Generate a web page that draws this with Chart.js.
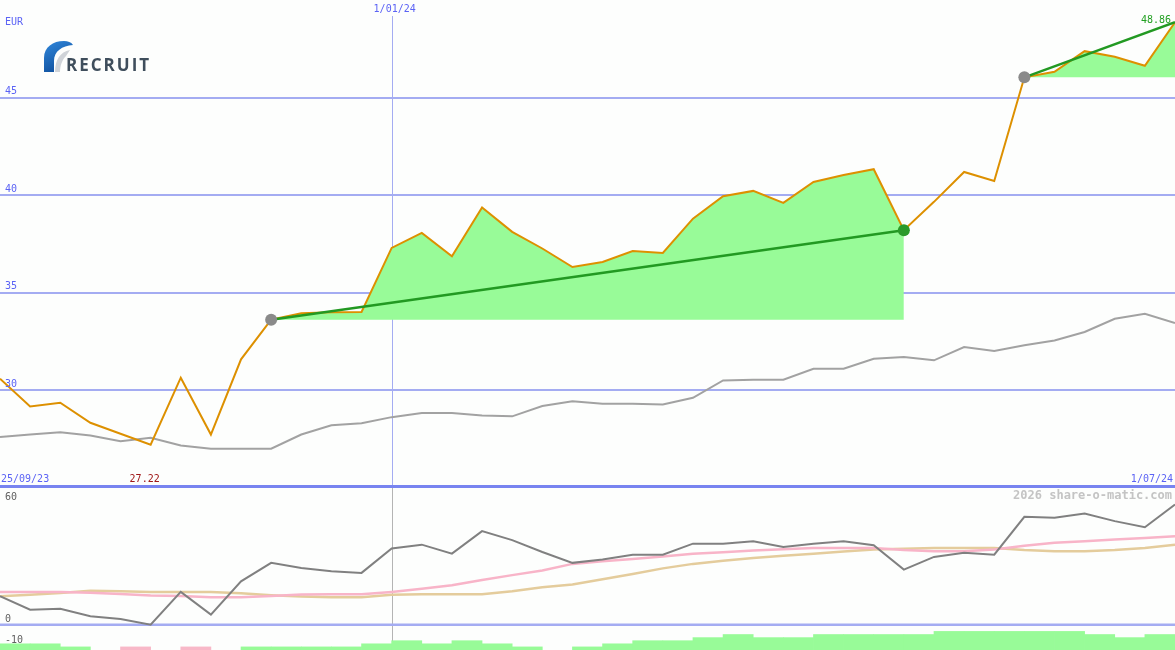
<!DOCTYPE html>
<html>
<head>
<meta charset="utf-8">
<script src="https://cdn.jsdelivr.net/npm/chart.js@4.4.1/dist/chart.umd.min.js"></script>
<style>
  body { margin: 0; background: #fdfefd; }
  #wrap { position: relative; width: 1175px; height: 650px; overflow: hidden; background: #fdfefd; }
  canvas { position: absolute; left: 0; }
</style>
</head>
<body>
<div id="wrap">
  <canvas id="main" width="1175" height="488" style="top:0"></canvas>
  <canvas id="osc" width="1175" height="162" style="top:488px"></canvas>
</div>
<script>
// weekly closes, EUR (index 0 = first week shown)
const price = [30.60, 29.18, 29.37, 28.34, 27.78, 27.22, 30.65, 27.74, 31.59, 33.62,
               33.95, 34.00, 34.02, 37.30, 38.07, 36.87, 39.37, 38.12, 37.27, 36.32,
               36.58, 37.14, 37.04, 38.80, 39.95, 40.22, 39.61, 40.68, 41.03, 41.33,
               38.21, 39.66, 41.19, 40.73, 46.04, 46.32, 47.38, 47.09, 46.63, 48.86];
// slow moving average (grey)
const avg = [27.61, 27.74, 27.86, 27.69, 27.40, 27.57, 27.18, 27.01, 27.01, 27.01,
             27.74, 28.21, 28.32, 28.63, 28.84, 28.84, 28.72, 28.67, 29.20, 29.44,
             29.32, 29.32, 29.28, 29.62, 30.51, 30.55, 30.55, 31.11, 31.11, 31.62,
             31.71, 31.54, 32.22, 32.02, 32.31, 32.56, 32.99, 33.67, 33.93, 33.45];
// lower panel
const osc = [13.9, 7.3, 7.8, 4.1, 2.8, 0.0, 16.0, 4.9, 21.2, 30.2,
             27.7, 26.1, 25.3, 37.2, 39.1, 34.7, 45.7, 41.3, 35.5, 30.2,
             31.8, 34.2, 34.2, 39.6, 39.6, 40.8, 38.0, 39.5, 40.8, 38.8,
             26.9, 33.1, 35.1, 34.2, 52.7, 52.2, 54.3, 50.6, 47.6, 58.7];
const oscPink = [16.0, 16.0, 16.0, 15.6, 15.0, 14.2, 14.0, 13.4, 13.4, 14.0,
                 14.7, 14.8, 14.8, 16.0, 17.5, 19.3, 21.8, 24.2, 26.5, 29.7,
                 31.0, 32.1, 33.3, 34.6, 35.4, 36.2, 36.8, 37.5, 37.5, 37.5,
                 36.5, 35.9, 35.9, 36.7, 38.6, 40.0, 40.8, 41.6, 42.4, 43.2];
const oscTan = [13.9, 14.6, 15.5, 16.6, 16.3, 16.0, 16.0, 16.0, 15.3, 14.4,
                13.8, 13.4, 13.4, 14.6, 14.8, 14.8, 14.8, 16.3, 18.3, 19.6,
                22.2, 24.8, 27.5, 29.7, 31.2, 32.6, 33.7, 34.7, 35.7, 36.7,
                37.1, 37.5, 37.5, 37.5, 36.5, 35.9, 35.9, 36.5, 37.5, 39.1];
// histogram per week interval (sign = colour)
const hist = [2, 2, 1, 0, -1, 0, -1, 0, 1, 1, 1, 1, 2, 3, 2, 3, 2, 1, 0, 1,
              2, 3, 3, 4, 5, 4, 4, 5, 5, 5, 5, 6, 6, 6, 6, 6, 5, 4, 5];

const trendFrom = [9, 34];
const trendTo = [30, 39];
const markIdx = [9, 30, 34];
const markColor = ['#8a8a8a', '#2a9a2a', '#8a8a8a'];

const priceTicks = [30, 35, 40, 45];
const oscTicks = [60, 0, -10];
const dateLabels = ['25/09/23', '1/01/24', '1/07/24'];
const dateIdx = [-1, 13, 39];

const pts = arr => arr.map((v, i) => ({ x: i, y: v }));
const font = '10px "DejaVu Sans Mono"';

const trendData = [];
trendFrom.forEach((s, k) => {
  if (k > 0) trendData.push({ x: s - 0.5, y: null });
  trendData.push({ x: s, y: price[s] }, { x: trendTo[k], y: price[trendTo[k]] });
});
const fills = trendFrom.map((s, k) => ({
  data: pts(price).slice(s, trendTo[k] + 1),
  borderWidth: 0, pointRadius: 0, backgroundColor: '#98fb98',
  fill: { value: price[s] }
}));

const mainDecor = {
  id: 'mainDecor',
  beforeDatasetsDraw(chart) {
    const { ctx, chartArea: a, scales: { x, y } } = chart;
    ctx.save();
    ctx.strokeStyle = '#a4acf2';
    ctx.lineWidth = 2;
    priceTicks.forEach(v => {
      const py = Math.round(y.getPixelForValue(v));
      ctx.beginPath(); ctx.moveTo(a.left, py); ctx.lineTo(a.right, py); ctx.stroke();
    });
    ctx.lineWidth = 1;
    dateIdx.forEach(d => {
      const px = Math.round(x.getPixelForValue(d)) + 0.5;
      if (px < 10 || px > a.right - 10) return;
      ctx.beginPath(); ctx.moveTo(px, 16); ctx.lineTo(px, a.bottom); ctx.stroke();
    });
    ctx.restore();
  },
  afterDatasetsDraw(chart) {
    const { ctx, chartArea: a, scales: { x, y } } = chart;
    ctx.save();
    ctx.fillStyle = '#7884f0';
    ctx.fillRect(a.left, a.bottom - 3, a.right - a.left, 3);

    ctx.font = font;
    ctx.textBaseline = 'middle';
    ctx.fillStyle = '#5b63f5';
    ctx.textAlign = 'left';
    ctx.fillText('EUR', 5, 22);
    priceTicks.forEach(v => ctx.fillText(String(v), 5, y.getPixelForValue(v) - 6));

    dateLabels.forEach((t, k) => {
      const px = x.getPixelForValue(dateIdx[k]);
      if (px < 40) { ctx.textAlign = 'left'; ctx.fillText(t, 1, a.bottom - 9); }
      else if (px > a.right - 40) { ctx.textAlign = 'right'; ctx.fillText(t, a.right - 2, a.bottom - 9); }
      else { ctx.textAlign = 'center'; ctx.fillText(t, px + 3, 9); }
    });

    const lo = Math.min(...price);
    const loIdx = price.indexOf(lo);
    ctx.textAlign = 'center';
    ctx.fillStyle = '#a01818';
    ctx.fillText(lo.toFixed(2), x.getPixelForValue(loIdx) - 6, a.bottom - 9);

    const last = price.length - 1;
    ctx.textAlign = 'right';
    ctx.fillStyle = '#22a022';
    ctx.fillText(price[last].toFixed(2), a.right - 4, y.getPixelForValue(price[last]) - 2);

    // logo
    const g = ctx.createLinearGradient(45, 42, 60, 72);
    g.addColorStop(0, '#2f86da');
    g.addColorStop(1, '#0f4f9c');
    ctx.fillStyle = g;
    ctx.beginPath();
    ctx.moveTo(44, 72);
    ctx.lineTo(44, 58);
    ctx.bezierCurveTo(44, 47, 53, 41, 64, 41);
    ctx.bezierCurveTo(68, 41, 71, 42, 73, 45);
    ctx.bezierCurveTo(62, 46, 54, 51, 54, 61);
    ctx.lineTo(54, 72);
    ctx.closePath();
    ctx.fill();
    ctx.fillStyle = '#cfd3d8';
    ctx.beginPath();
    ctx.moveTo(55, 72);
    ctx.bezierCurveTo(55, 60, 60, 52, 70, 50);
    ctx.lineTo(66, 56);
    ctx.bezierCurveTo(62, 60, 60, 66, 60, 72);
    ctx.closePath();
    ctx.fill();
    ctx.fillStyle = '#3f4e5c';
    ctx.font = 'bold 17px "Open Sans"';
    ctx.letterSpacing = '2px';
    ctx.textAlign = 'left';
    ctx.textBaseline = 'alphabetic';
    ctx.fillText('RECRUIT', 66, 71);
    ctx.restore();
  }
};

new Chart(document.getElementById('main'), {
  type: 'line',
  data: {
    datasets: [
      { data: markIdx.map(i => ({ x: i, y: price[i] })), showLine: false, pointRadius: 6,
        pointBackgroundColor: markColor, pointBorderWidth: 0, clip: false },
      { data: trendData, borderColor: '#229922', borderWidth: 2.5, pointRadius: 0, spanGaps: false },
      { data: pts(price), borderColor: '#dd9000', borderWidth: 2, pointRadius: 0 },
      { data: pts(avg), borderColor: '#a2a2a2', borderWidth: 2, pointRadius: 0 },
      ...fills
    ]
  },
  options: {
    responsive: false, animation: false, devicePixelRatio: 1, events: [],
    layout: { padding: 0, autoPadding: false },
    plugins: { legend: { display: false }, tooltip: { enabled: false } },
    scales: {
      x: { type: 'linear', min: 0, max: price.length - 1, display: false },
      y: { min: 25, max: 50, display: false }
    }
  },
  plugins: [mainDecor]
});

const oscDecor = {
  id: 'oscDecor',
  beforeDatasetsDraw(chart) {
    const { ctx, chartArea: a, scales: { x, y } } = chart;
    ctx.save();
    ctx.strokeStyle = '#b4b4b4';
    ctx.lineWidth = 1;
    dateIdx.forEach(d => {
      const px = Math.round(x.getPixelForValue(d)) + 0.5;
      if (px < 10 || px > a.right - 10) return;
      ctx.beginPath(); ctx.moveTo(px, a.top); ctx.lineTo(px, a.bottom); ctx.stroke();
    });
    ctx.strokeStyle = '#a4acf2';
    ctx.lineWidth = 2.5;
    const p0 = y.getPixelForValue(0);
    ctx.beginPath(); ctx.moveTo(a.left, p0); ctx.lineTo(a.right, p0); ctx.stroke();
    ctx.restore();
  },
  afterDatasetsDraw(chart) {
    const { ctx, chartArea: a, scales: { y } } = chart;
    ctx.save();
    ctx.font = font;
    ctx.textBaseline = 'middle';
    ctx.textAlign = 'left';
    ctx.fillStyle = '#606060';
    oscTicks.forEach(v => ctx.fillText(String(v), 5, y.getPixelForValue(v) - 5));
    ctx.font = 'bold 12px "DejaVu Sans Mono"';
    ctx.textAlign = 'right';
    ctx.fillStyle = '#c4c4c4';
    ctx.fillText('2026 share-o-matic.com', a.right - 3, 8);
    ctx.restore();
  }
};

new Chart(document.getElementById('osc'), {
  type: 'line',
  data: {
    datasets: [
      { data: pts(osc), borderColor: '#808080', borderWidth: 2, pointRadius: 0 },
      { data: pts(oscPink), borderColor: '#f8b4c8', borderWidth: 2.5, pointRadius: 0 },
      { data: pts(oscTan), borderColor: '#e4cc9c', borderWidth: 2.5, pointRadius: 0 },
      { type: 'bar', yAxisID: 'yh',
        data: hist.map((v, i) => ({ x: i + 0.5, y: Math.abs(v), s: v })).filter(p => p.y > 0),
        backgroundColor: c => (c.raw && c.raw.s < 0) ? '#f8b8c8' : '#98fb98',
        borderWidth: 0, barPercentage: 1, categoryPercentage: 1 }
    ]
  },
  options: {
    responsive: false, animation: false, devicePixelRatio: 1, events: [],
    layout: { padding: 0, autoPadding: false },
    plugins: { legend: { display: false }, tooltip: { enabled: false } },
    scales: {
      x: { type: 'linear', min: 0, max: price.length - 1, offset: false, display: false },
      y: { min: -12.4, max: 66.8, display: false },
      yh: { min: 0, max: 52.3, display: false }
    }
  },
  plugins: [oscDecor]
});
</script>
</body>
</html>
